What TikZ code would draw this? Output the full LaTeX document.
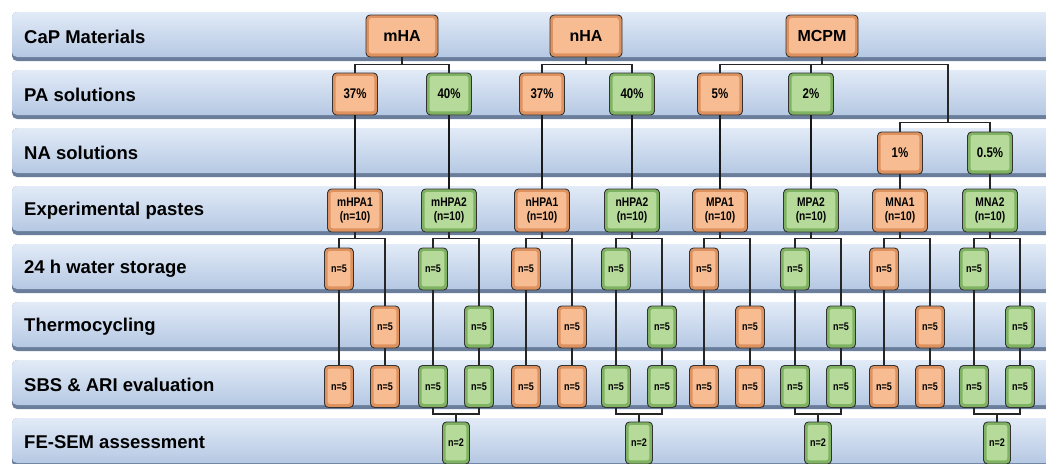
\documentclass[tikz,border=0pt]{standalone}
\usepackage{fontspec}
\setmainfont{Liberation Sans}
\newfontfamily\narrowfont[FakeStretch=0.82]{Liberation Sans}
\usetikzlibrary{calc}
\definecolor{bandtop}{HTML}{E2EBF7}
\definecolor{bandmid}{HTML}{C3D4EB}
\definecolor{bandbot}{HTML}{B5C8E3}
\definecolor{bandedge}{HTML}{6A7E9B}
\definecolor{oface}{HTML}{F7BC92}
\definecolor{oedge}{HTML}{DD9260}
\definecolor{gface}{HTML}{B5DA9A}
\definecolor{gedge}{HTML}{7FB262}
\tikzset{
  bx/.style 2 args={draw=black!80, line width=0.9pt, rounded corners=4pt, fill=#1, inner sep=0pt, align=center,
    path picture={\fill[#2, rounded corners=2.5pt] ([shift={(3pt,-3pt)}]path picture bounding box.north west) rectangle ([shift={(-3.2pt,3.6pt)}]path picture bounding box.south east);}},
  ob/.style={bx={oedge}{oface}},
  gb/.style={bx={gedge}{gface}},
  toprow/.style={minimum width=72pt, minimum height=42pt, font=\fontsize{16}{18}\selectfont\bfseries},
  pct/.style={minimum width=45pt, minimum height=42pt, font=\narrowfont\fontsize{14}{16}\selectfont\bfseries},
  paste/.style={minimum width=55pt, minimum height=43pt, font=\narrowfont\fontsize{12.5}{13.5}\selectfont\bfseries},
  nn/.style={minimum width=29pt, minimum height=42pt, font=\narrowfont\fontsize{11}{12}\selectfont\bfseries},
  lab/.style={anchor=west, inner sep=0pt, font=\fontsize{18.5}{20}\selectfont\bfseries},
  ln/.style={draw=black!85, line width=1.1pt},
  lnb/.style={draw=black!90, line width=1.5pt},
}
\begin{document}
\begin{tikzpicture}[x=1pt,y=-1pt]
\useasboundingbox (0,0) rectangle (1046,463);
\clip (0,0) rectangle (1046,463);
% bands
\foreach \lab [count=\i from 0] in {CaP Materials, PA solutions, NA solutions, Experimental pastes, 24 h water storage, Thermocycling, SBS \& ARI evaluation, FE-SEM assessment}{
  \pgfmathsetmacro\t{12+58*\i}
  \fill[bandedge, rounded corners=5pt] (12,\t) rectangle (1070,\t+49);
  \shade[rounded corners=5pt, top color=bandtop, middle color=bandmid, bottom color=bandbot] (12,\t) rectangle (1070,\t+45);
  \node[lab] (L\i) at (24,\t+24.5) {\lab};
}
% row 1
\node[ob,toprow] (mHA) at (402,36) {mHA};
\node[ob,toprow] (nHA) at (586,36) {nHA};
\node[ob,toprow] (MCPM) at (822,36) {MCPM};
% row 2
\node[ob,pct] (p1) at (355,94) {37\%};
\node[gb,pct] (p2) at (449,94) {40\%};
\node[ob,pct] (p3) at (542,94) {37\%};
\node[gb,pct] (p4) at (632,94) {40\%};
\node[ob,pct] (p5) at (720,94) {5\%};
\node[gb,pct] (p6) at (811,94) {2\%};
% row 3
\node[ob,pct] (r1) at (900,153) {1\%};
\node[gb,pct] (r2) at (990,153) {0.5\%};
% connectors rows 1-3
\draw[ln] (mHA.south) -- ++(0,8);
\draw[ln] (p1.north) -- ++(0,-8) -| (p2.north);
\draw[ln] (nHA.south) -- ++(0,8);
\draw[ln] (p3.north) -- ++(0,-8) -| (p4.north);
\coordinate (mj) at (948,65);
\draw[ln] (MCPM.south) -- ++(0,8);
\draw[ln] (p5.north) -- ++(0,-8) -| (mj);
\draw[ln] (p6.north) -- ++(0,-8);
\draw[ln] (mj) -- ++(0,58) coordinate (mk);
\draw[ln] (r1.north) -- ++(0,-9) -| (r2.north);
% rows 4-7
\foreach \c/\lab/\st [count=\k] in {355/mHPA1/ob,449/mHPA2/gb,542/nHPA1/ob,632/nHPA2/gb,720/MPA1/ob,811/MPA2/gb,900/MNA1/ob,990/MNA2/gb}{
  \node[\st,paste] (e\k) at (\c,210.5) {\lab\\(n=10)};
  \node[\st,nn] (w\k) at (\c-16,269) {n=5};
  \node[\st,nn] (t\k) at (\c+30,327) {n=5};
  \node[\st,nn] (sa\k) at (\c-16,386.5) {n=5};
  \node[\st,nn] (sb\k) at (\c+30,386.5) {n=5};
  \draw[ln] (e\k.south) -- ++(0,7);
  \draw[ln] (w\k.north) -- ++(0,-9) -| (t\k.north);
  \draw[ln] (w\k.south) -- (sa\k.north);
  \draw[ln] (t\k.south) -- (sb\k.north);
}
\foreach \k in {1,...,6}{ \draw[lnb] (p\k.south) -- (e\k.north); }
\draw[ln] (r1.south) -- (e7.north);
\draw[ln] (r2.south) -- (e8.north);
% row 8
\foreach \k/\c in {2/449,4/632,6/811,8/990}{
  \node[gb,nn,minimum width=27pt] (f\k) at (\c+7,443) {n=2};
  \draw[ln] (sa\k.south) -- ++(0,6) -| (sb\k.south);
  \draw[ln] (f\k.north) -- ++(0,-8);
}
\end{tikzpicture}
\end{document}
